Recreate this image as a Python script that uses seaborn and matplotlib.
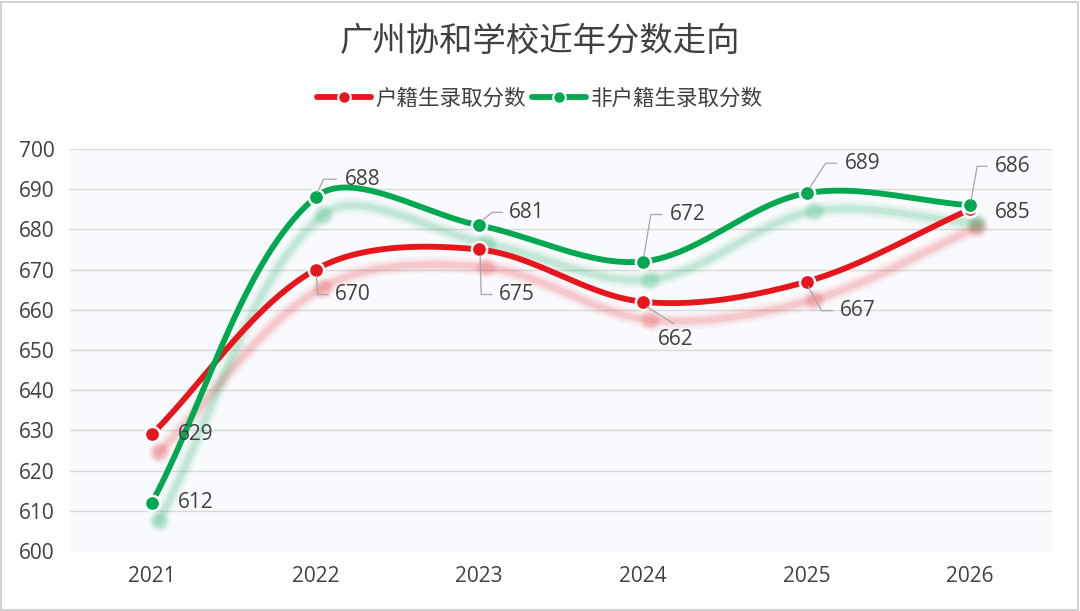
import numpy as np
import pandas as pd
import seaborn as sns
import matplotlib.pyplot as plt
from matplotlib.lines import Line2D
from matplotlib.patches import Rectangle
from matplotlib.transforms import offset_copy

years = ['2021', '2022', '2023', '2024', '2025', '2026']
huji = [629, 670, 675, 662, 667, 685]
fei_huji = [612, 688, 681, 672, 689, 686]
series_names = ['户籍生录取分数', '非户籍生录取分数']
title = '广州协和学校近年分数走向'

RED = '#e6161c'
GREEN = '#00a84f'
TXT = '#404040'

# label placement in pixels: (dx, dy, ha, leader polyline)
red_lab = [
    (26, 0, 'left', None),
    (19, -25, 'left', [(1, -6), (2, -25), (13, -25)]),
    (20, -45, 'left', [(1, -6), (2, -45), (13, -45)]),
    (33, -38, 'center', [(4, -5), (31, -22)]),
    (33, -29, 'left', [(2, -5), (15, -29), (26, -29)]),
    (25, -3, 'left', None),
]
green_lab = [
    (26, 0, 'left', None),
    (29, 18, 'left', [(2, 5), (8, 18), (21, 18)]),
    (30, 13, 'left', [(3, 5), (13, 13), (23, 13)]),
    (27, 47, 'left', [(1, 5), (8, 47), (19, 47)]),
    (38, 30, 'left', [(3, 5), (19, 30), (30, 30)]),
    (25, 39, 'left', [(1, 5), (7, 39), (17, 39)]),
]

sns.set_theme(style='white')
plt.rcParams['font.family'] = ['Open Sans', 'Noto Sans CJK SC', 'DejaVu Sans']

fig = plt.figure(figsize=(10.8, 6.11), dpi=100)
ax = fig.add_axes([70 / 1080, 1 - 551 / 611, 982 / 1080, 402 / 611])
ax.set_facecolor('#f9fafd')
ax.set_xlim(-0.5, 5.5)
ax.set_ylim(600, 700)

fig.patches.append(Rectangle((0.001, 0.002), 0.997, 0.995, transform=fig.transFigure,
                             fill=False, edgecolor='#c8c8c8', linewidth=1.2))


def smooth(xs, ys, n=50):
    # excel-like smoothed line, built in screen space
    pts = ax.transData.transform(np.column_stack([xs, ys]).astype(float))
    pad = np.vstack([pts[0], pts, pts[-1]])
    t = np.linspace(0, 1, n)[:, None]
    out = []
    for i in range(len(pts) - 1):
        p0, p1, p2, p3 = pad[i], pad[i + 1], pad[i + 2], pad[i + 3]
        d01 = np.hypot(*(p1 - p0)) + 1e-9
        d12 = np.hypot(*(p2 - p1)) + 1e-9
        d23 = np.hypot(*(p3 - p2)) + 1e-9
        c1 = p1 + (p2 - p0) * d12 / (d01 + d12) / 3
        c2 = p2 - (p3 - p1) * d12 / (d12 + d23) / 3
        seg = (1 - t) ** 3 * p1 + 3 * (1 - t) ** 2 * t * c1 + 3 * (1 - t) * t ** 2 * c2 + t ** 3 * p2
        out.append(seg if i == 0 else seg[1:])
    return ax.transData.inverted().transform(np.vstack(out))


xpos = np.arange(len(years))
shadow = offset_copy(ax.transData, fig=fig, x=7, y=-18, units='dots')

for vals, col in [(huji, RED), (fei_huji, GREEN)]:
    curve = smooth(xpos, vals)
    cdf = pd.DataFrame({'x': curve[:, 0], 'y': curve[:, 1]})
    # soft shadow
    for lw, a in [(12, 0.04), (9, 0.05), (6, 0.06), (4, 0.08)]:
        ax.plot(cdf['x'], cdf['y'], color=col, lw=lw, alpha=a, transform=shadow,
                solid_capstyle='round', zorder=2)
    for s, a in [(260, 0.05), (170, 0.07), (100, 0.09)]:
        ax.scatter(xpos, vals, s=s, color=col, alpha=a, transform=shadow, lw=0, zorder=2)
    sns.lineplot(data=cdf, x='x', y='y', ax=ax, color=col, lw=4.2, sort=False,
                 estimator=None, zorder=4)

for vals, col in [(huji, RED), (fei_huji, GREEN)]:
    sns.scatterplot(x=xpos, y=vals, ax=ax, color=col, s=120, edgecolor='white',
                    linewidth=1.8, zorder=5)

for vals, labs in [(huji, red_lab), (fei_huji, green_lab)]:
    for x, v, (dx, dy, ha, leader) in zip(xpos, vals, labs):
        ax.annotate(str(v), (x, v), xytext=(dx, dy), textcoords='offset pixels',
                    ha=ha, va='center', fontsize=15, color=TXT, zorder=6)
        if leader:
            pts = ax.transData.transform(np.array([[x, v]] * len(leader), dtype=float))
            pts = pts + np.array(leader)
            dat = ax.transData.inverted().transform(pts)
            ax.plot(dat[:, 0], dat[:, 1], color='#a6a6a6', lw=0.9, zorder=6)

ax.set_xticks(xpos)
ax.set_xticklabels(years)
ax.set_yticks(np.arange(600, 701, 10))
ax.tick_params(axis='both', length=0, labelsize=15, labelcolor=TXT)
ax.tick_params(axis='y', pad=11)
ax.tick_params(axis='x', pad=11)
ax.set_xlabel('')
ax.set_ylabel('')
ax.grid(axis='y', color='#d9d9d9', lw=1)
ax.set_axisbelow(True)
for sp in ax.spines.values():
    sp.set_visible(False)

fig.text(0.5, 1 - 42 / 611, title, ha='center', va='center', fontsize=24, color=TXT)

handles = [Line2D([], [], color=RED, lw=4.2, marker='o', ms=9, mec='white', mew=1.5),
           Line2D([], [], color=GREEN, lw=4.2, marker='o', ms=9, mec='white', mew=1.5)]
fig.legend(handles, series_names, loc='center', bbox_to_anchor=(0.5, 1 - 99 / 611),
           ncol=2, frameon=False, fontsize=15.5, handlelength=2.5, handletextpad=0.2,
           columnspacing=0.3, labelcolor=TXT)

fig.savefig('out.png', dpi=100)
